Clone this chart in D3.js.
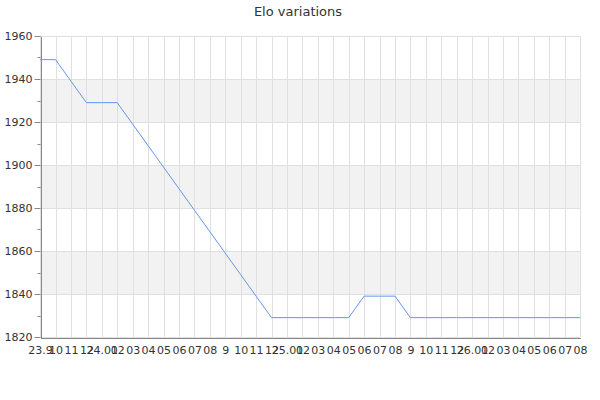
<!DOCTYPE html>
<html><head><meta charset="utf-8">
<script src="https://cdn.jsdelivr.net/npm/d3@7"></script>
<style>body{margin:0;background:#fff}svg{display:block}</style>
</head><body>
<svg id="chart" width="600" height="400"></svg>
<script>
const title = "Elo variations";
const categories = ["23.9","10","11","12","24.01","02","03","04","05","06","07","08","9","10","11","12","25.01","02","03","04","05","06","07","08","9","10","11","12","26.01","02","03","04","05","06","07","08"];
const elo = [1949,1949,1939,1929,1929,1929,1919,1909,1899,1889,1879,1869,1859,1849,1839,1829,1829,1829,1829,1829,1829,1839,1839,1839,1829,1829,1829,1829,1829,1829,1829,1829,1829,1829,1829,1829];
const yTicks = [1820,1840,1860,1880,1900,1920,1940,1960];
const yMinor = [1830,1850,1870,1890,1910,1930,1950];
const bands = [[1840,1860],[1880,1900],[1920,1940]];

const svg = d3.select("#chart");
const m = {l:40, r:20, t:36, b:63};
const W = 600, H = 400;
const idx = d3.range(categories.length);
const x = d3.scaleLinear().domain([0, categories.length-1]).range([m.l+0.1, W-m.r+0.1]);
const y = d3.scaleLinear().domain([1820,1960]).range([H-m.b, m.t]);

svg.append("text").attr("x",298).attr("y",16).attr("text-anchor","middle")
  .attr("font-family","DejaVu Sans").attr("font-size",13).attr("fill","#333").text(title);

// bands
svg.append("g").selectAll("rect").data(bands).join("rect")
  .attr("x", x(0)).attr("width", x(categories.length-1)-x(0))
  .attr("y", d=>y(d[1])).attr("height", d=>y(d[0])-y(d[1]))
  .attr("fill","#f2f2f2");

// grids
const g = svg.append("g").attr("stroke","#e0e0e0").attr("stroke-width",1).attr("shape-rendering","crispEdges");
g.selectAll("line.v").data(idx).join("line")
  .attr("x1",d=>Math.round(x(d))+0.5).attr("x2",d=>Math.round(x(d))+0.5)
  .attr("y1",y(1960)).attr("y2",y(1820));
g.selectAll("line.h").data(yTicks).join("line")
  .attr("x1",x(0)).attr("x2",x(categories.length-1))
  .attr("y1",d=>Math.round(y(d))+0.5).attr("y2",d=>Math.round(y(d))+0.5);

// y axis
const ya = svg.append("g").attr("transform",`translate(${Math.round(x(0))+0.5},0)`)
  .call(d3.axisLeft(y).tickValues(yTicks).tickSize(6).tickSizeOuter(0).tickFormat(d3.format("d")));
ya.select(".domain").attr("stroke","#888").attr("shape-rendering","crispEdges");
ya.selectAll(".tick line").attr("stroke","#888");
ya.selectAll("text").attr("font-family","DejaVu Sans").attr("font-size",11).attr("fill","#333").attr("x",-8);
ya.selectAll(".minor").data(yMinor).join("line").attr("class","minor")
  .attr("x1",-3).attr("x2",0).attr("y1",d=>Math.round(y(d))+0.5).attr("y2",d=>Math.round(y(d))+0.5)
  .attr("stroke","#888");

// x axis
const xa = svg.append("g").attr("transform",`translate(0,${Math.round(y(1820))+0.5})`)
  .call(d3.axisBottom(x).tickValues(idx).tickSize(0).tickSizeOuter(0).tickFormat(i=>categories[i]));
xa.select(".domain").attr("stroke","#888").attr("shape-rendering","crispEdges");
xa.selectAll("text").attr("font-family","DejaVu Sans").attr("font-size",11).attr("fill","#333").attr("y",9);

// line
svg.append("path").datum(elo)
  .attr("fill","none").attr("stroke","#6495ed").attr("stroke-width",1)
  .attr("d", d3.line().x((d,i)=>x(i)).y(d=>y(d)));
</script>
</body></html>
